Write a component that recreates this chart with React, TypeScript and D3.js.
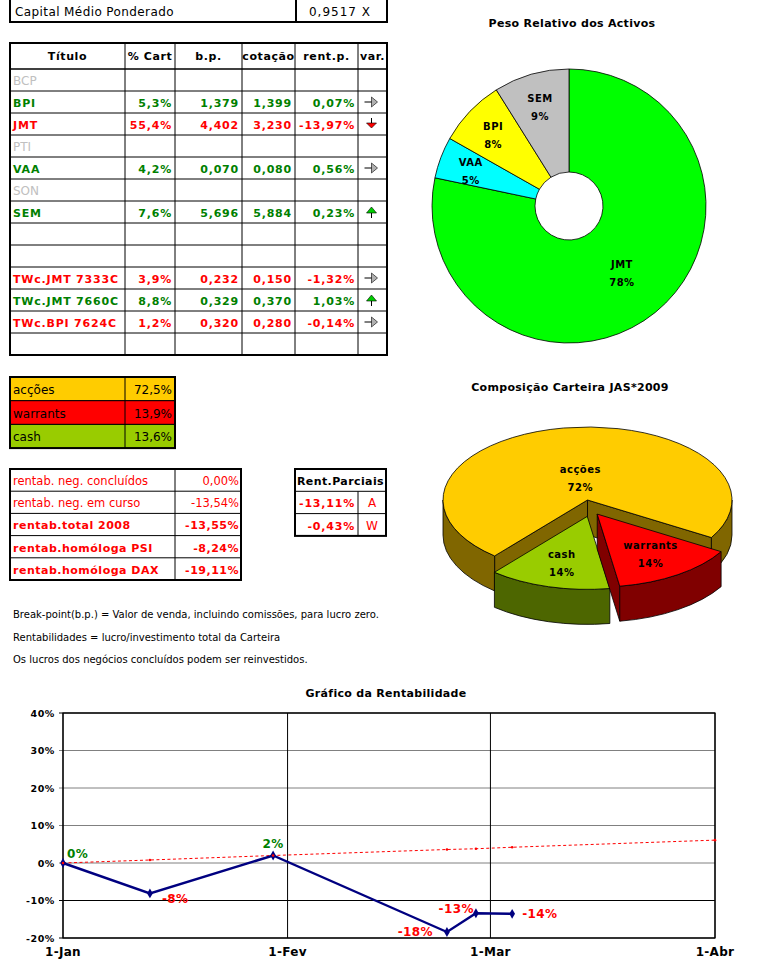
import React from "react";
import * as d3 from "d3";

const FONT = "'Comic Sans MS','DejaVu Sans',sans-serif";
const GREEN = "#008000";
const RED = "#FF0000";
const GRAYTXT = "#C0C0C0";

// ---------- data ----------
const CAPITAL_LABEL = "Capital Médio Ponderado";
const CAPITAL_VALUE = 0.9517;

const HEADERS = ["Título", "% Cart", "b.p.", "cotação", "rent.p.", "var."];
const TITLES = ["BCP", "BPI", "JMT", "PTI", "VAA", "SON", "SEM", "", "", "TWc.JMT 7333C", "TWc.JMT 7660C", "TWc.BPI 7624C", ""];
const PCT_CART = [null, 5.3, 55.4, null, 4.2, null, 7.6, null, null, 3.9, 8.8, 1.2, null];
const BREAK_POINT = [null, 1.379, 4.402, null, 0.07, null, 5.696, null, null, 0.232, 0.329, 0.32, null];
const COTACAO = [null, 1.399, 3.23, null, 0.08, null, 5.884, null, null, 0.15, 0.37, 0.28, null];
const RENT_P = [null, 0.07, -13.97, null, 0.56, null, 0.23, null, null, -1.32, 1.03, -0.14, null];
const VAR_DIR = ["", "flat", "down", "", "flat", "", "up", "", "", "flat", "up", "flat", ""];
const INACTIVE = ["BCP", "PTI", "SON"];

const COMP_LABELS = ["acções", "warrants", "cash"];
const COMP_VALUES = [72.46, 13.9, 13.6];
const COMP_COLORS = ["#FFCC00", "#FF0000", "#99CC00"];
const COMP_SIDES = ["#806600", "#800000", "#4D6600"];
const COMP_EXPLODED = [false, true, true];

const RENT_LABELS = ["rentab. neg. concluídos", "rentab. neg. em curso", "rentab.total 2008", "rentab.homóloga PSI", "rentab.homóloga DAX"];
const RENT_VALUES = [0.0, -13.54, -13.55, -8.24, -19.11];
const RENT_BOLD = [false, false, true, true, true];

const PARC_TITLE = "Rent.Parciais";
const PARC_VALUES = [-13.11, -0.43];
const PARC_CODES = ["A", "W"];

const NOTES = [
  "Break-point(b.p.) = Valor de venda, incluindo comissões, para lucro zero.",
  "Rentabilidades = lucro/investimento total da Carteira",
  "Os lucros dos negócios concluídos podem ser reinvestidos.",
];

const PESO_TITLE = "Peso Relativo dos Activos";
const PESO_LABELS = ["JMT", "VAA", "BPI", "SEM"];
const PESO_VALUES = [78.3, 4.9, 7.9, 8.9];
const PESO_COLORS = ["#00FF00", "#00FFFF", "#FFFF00", "#C0C0C0"];

const COMP_TITLE = "Composição Carteira JAS*2009";

const LINE_TITLE = "Gráfico da Rentabilidade";
const RENT_DATES = ["2009-01-01", "2009-01-13", "2009-01-30", "2009-02-23", "2009-02-27", "2009-03-04"];
const RENT_SERIES = [0, -8.1, 2.0, -18.4, -13.4, -13.55];
const RENT_LABEL_POS = ["ur", "br", "t", "l", "tl", "r"];
const BENCH_DATES = ["2009-01-01", "2009-01-13", "2009-01-30", "2009-02-23", "2009-02-27", "2009-03-04", "2009-04-01"];
const BENCH_VALUES = [0, 0.8, 2.0, 3.6, 3.8, 4.2, 6.1];
const Y_TICKS = [-20, -10, 0, 10, 20, 30, 40];
const X_TICK_DATES = ["2009-01-01", "2009-02-01", "2009-03-01", "2009-04-01"];
const X_TICK_LABELS = ["1-Jan", "1-Fev", "1-Mar", "1-Abr"];

// ---------- helpers ----------
const pt = d3.formatLocale({ decimal: ",", thousands: ".", grouping: [3], currency: ["", "€"], minus: "-" } as any);
const f1 = pt.format(".1f");
const f2 = pt.format(".2f");
const f3 = pt.format(".3f");
const f4 = pt.format(".4f");
const parse = d3.timeParse("%Y-%m-%d");

function Arrow({ x, y, dir }: { x: number; y: number; dir: string }) {
  if (dir === "flat") {
    return (
      <g>
        <line x1={x - 7} x2={x + 1} y1={y} y2={y} stroke="#000" strokeWidth={1} />
        <path d={`M${x},${y - 5} L${x + 6},${y} L${x},${y + 5} Z`} fill="#B0B0B0" stroke="#000" strokeWidth={0.6} />
      </g>
    );
  }
  if (dir === "down") {
    return (
      <g>
        <line x1={x} x2={x} y1={y - 6} y2={y} stroke="#000" strokeWidth={1} />
        <path d={`M${x - 5},${y - 1} L${x + 5},${y - 1} L${x},${y + 4} Z`} fill={RED} stroke="#000" strokeWidth={0.6} />
      </g>
    );
  }
  if (dir === "up") {
    return (
      <g>
        <line x1={x} x2={x} y1={y} y2={y + 6} stroke="#000" strokeWidth={1} />
        <path d={`M${x - 5},${y + 1} L${x + 5},${y + 1} L${x},${y - 5} Z`} fill="#00CC00" stroke="#000" strokeWidth={0.6} />
      </g>
    );
  }
  return null;
}

function MainTable() {
  const cols = [10, 125, 175, 242, 295, 358, 387];
  const top = 43;
  const headH = 26;
  const rowH = 22;
  const y0 = top + headH;
  const bottom = y0 + TITLES.length * rowH;
  const cols2 = [PCT_CART, BREAK_POINT, COTACAO, RENT_P];
  const fmts = [(v: number) => f1(v) + "%", f3, f3, (v: number) => f2(v) + "%"];
  return (
    <g fontFamily={FONT}>
      {TITLES.map((_, i) => (
        <line key={"r" + i} x1={cols[0]} x2={cols[6]} y1={y0 + i * rowH} y2={y0 + i * rowH} stroke="#000" strokeWidth={i === 0 ? 1.5 : 1} />
      ))}
      {cols.slice(1, 6).map((c, i) => (
        <line key={"c" + i} x1={c} x2={c} y1={top} y2={bottom} stroke="#000" strokeWidth={1} />
      ))}
      <rect x={cols[0]} y={top} width={cols[6] - cols[0]} height={bottom - top} fill="none" stroke="#000" strokeWidth={2} />
      {HEADERS.map((h, i) => (
        <text key={"h" + i} x={(cols[i] + cols[i + 1]) / 2} y={top + 17} textAnchor="middle" fontSize={11} fontWeight="bold" letterSpacing={0.6}>
          {h}
        </text>
      ))}
      {TITLES.map((t, i) => {
        const ry = y0 + i * rowH;
        if (!t) return null;
        if (INACTIVE.includes(t)) {
          return (
            <text key={"t" + i} x={cols[0] + 3} y={ry + 16} fontSize={12} fill={GRAYTXT}>
              {t}
            </text>
          );
        }
        const color = (RENT_P[i] as number) < 0 ? RED : GREEN;
        return (
          <g key={"t" + i} fill={color} fontSize={11} fontWeight="bold" letterSpacing={0.8}>
            <text x={cols[0] + 3} y={ry + 16}>{t}</text>
            {cols2.map((arr, j) => (
              <text key={j} x={cols[j + 2] - 3} y={ry + 16} textAnchor="end">
                {fmts[j](arr[i] as number)}
              </text>
            ))}
            <Arrow x={(cols[5] + cols[6]) / 2 - 1} y={ry + 11} dir={VAR_DIR[i]} />
          </g>
        );
      })}
    </g>
  );
}

function TopBox() {
  return (
    <g fontFamily={FONT}>
      <line x1={296} x2={296} y1={0} y2={22} stroke="#000" strokeWidth={2} />
      <rect x={10} y={-2} width={377} height={24} fill="none" stroke="#000" strokeWidth={2} />
      <text x={15} y={16} fontSize={12} letterSpacing={0.4}>{CAPITAL_LABEL}</text>
      <text x={340} y={16} fontSize={12} textAnchor="middle" letterSpacing={1}>
        {f4(CAPITAL_VALUE) + " X"}
      </text>
    </g>
  );
}

function CompTable() {
  const x0 = 10, x1 = 125, x2 = 175, top = 377, rowH = 23.7;
  return (
    <g fontFamily={FONT}>
      {COMP_LABELS.map((l, i) => (
        <g key={i}>
          <rect x={x0} y={top + i * rowH} width={x2 - x0} height={rowH} fill={COMP_COLORS[i]} stroke="#000" strokeWidth={1} />
          <text x={x0 + 3} y={top + i * rowH + 17} fontSize={12}>{l}</text>
          <text x={x2 - 3} y={top + i * rowH + 17} fontSize={12} textAnchor="end">{f1(COMP_VALUES[i]) + "%"}</text>
        </g>
      ))}
      <line x1={x1} x2={x1} y1={top} y2={top + 3 * rowH} stroke="#000" />
      <rect x={x0} y={top} width={x2 - x0} height={3 * rowH} fill="none" stroke="#000" strokeWidth={2} />
    </g>
  );
}

function RentTable() {
  const x0 = 10, x1 = 175, x2 = 241, top = 469, rowH = 22.2;
  return (
    <g fontFamily={FONT} fill={RED}>
      {RENT_LABELS.map((l, i) => (
        <g key={i} fontWeight={RENT_BOLD[i] ? "bold" : "normal"} letterSpacing={RENT_BOLD[i] ? 0.5 : 0}>
          <line x1={x0} x2={x2} y1={top + i * rowH} y2={top + i * rowH} stroke="#000" />
          <text x={x0 + 3} y={top + i * rowH + 16} fontSize={RENT_BOLD[i] ? 11 : 11.5}>{l}</text>
          <text x={x2 - 2} y={top + i * rowH + 16} fontSize={RENT_BOLD[i] ? 11 : 11.5} textAnchor="end">{f2(RENT_VALUES[i]) + "%"}</text>
        </g>
      ))}
      <line x1={x1} x2={x1} y1={top} y2={top + 5 * rowH} stroke="#000" />
      <rect x={x0} y={top} width={x2 - x0} height={5 * rowH} fill="none" stroke="#000" strokeWidth={2} />
    </g>
  );
}

function ParcTable() {
  const x0 = 295, x1 = 358, x2 = 386, top = 469, rowH = 22.3;
  return (
    <g fontFamily={FONT}>
      <text x={(x0 + x2) / 2} y={top + 16} textAnchor="middle" fontSize={11} fontWeight="bold" letterSpacing={0.4}>{PARC_TITLE}</text>
      {PARC_VALUES.map((v, i) => (
        <g key={i} fill={RED}>
          <line x1={x0} x2={x2} y1={top + (i + 1) * rowH} y2={top + (i + 1) * rowH} stroke="#000" />
          <text x={x1 - 3} y={top + (i + 1) * rowH + 16} textAnchor="end" fontSize={11} fontWeight="bold" letterSpacing={0.8}>{f2(v) + "%"}</text>
          <text x={(x1 + x2) / 2} y={top + (i + 1) * rowH + 16} textAnchor="middle" fontSize={12}>{PARC_CODES[i]}</text>
        </g>
      ))}
      <line x1={x1} x2={x1} y1={top + rowH} y2={top + 3 * rowH} stroke="#000" />
      <rect x={x0} y={top} width={x2 - x0} height={3 * rowH} fill="none" stroke="#000" strokeWidth={2} />
    </g>
  );
}

function Notes() {
  return (
    <g fontFamily={FONT} fontSize={10}>
      {NOTES.map((n, i) => (
        <text key={i} x={13} y={618 + i * 22.5}>{n}</text>
      ))}
    </g>
  );
}

function Donut() {
  const cx = 569, cy = 206, rOut = 137, rIn = 34;
  const total = d3.sum(PESO_VALUES);
  const arcs = d3.pie<number>().sort(null).value((d) => d)(PESO_VALUES);
  const arc = d3.arc<d3.PieArcDatum<number>>().innerRadius(rIn).outerRadius(rOut);
  return (
    <g fontFamily={FONT}>
      <text x={572} y={27} textAnchor="middle" fontSize={11} fontWeight="bold" letterSpacing={0.3}>{PESO_TITLE}</text>
      <g transform={`translate(${cx},${cy})`}>
        {arcs.map((a, i) => (
          <path key={i} d={arc(a) as string} fill={PESO_COLORS[i]} stroke="#000" strokeWidth={0.8} />
        ))}
        {arcs.map((a, i) => {
          const lr = a.endAngle - a.startAngle > Math.PI ? 84 : 105;
          const m = (a.startAngle + a.endAngle) / 2;
          const x = lr * Math.sin(m), y = -lr * Math.cos(m);
          return (
            <g key={"l" + i} fontSize={10} fontWeight="bold" textAnchor="middle" letterSpacing={0.5}>
              <text x={x} y={y - 3}>{PESO_LABELS[i]}</text>
              <text x={x} y={y + 15}>{Math.round((a.data / total) * 100) + "%"}</text>
            </g>
          );
        })}
      </g>
    </g>
  );
}

function Pie3D() {
  const cx = 587.5, cy = 500, rx = 144.5, ry = 73, depth = 35;
  const total = d3.sum(COMP_VALUES);
  const start = (220 / 180) * Math.PI;
  const arcs = d3.pie<number>().sort(null).value((d) => d).startAngle(start).endAngle(start + 2 * Math.PI)(COMP_VALUES);
  const drawOrder = [0, 2, 1];
  return (
    <g fontFamily={FONT}>
      <text x={570} y={391} textAnchor="middle" fontSize={11} fontWeight="bold" letterSpacing={0.3}>{COMP_TITLE}</text>
      {drawOrder.map((i) => {
        const a = arcs[i];
        const a0 = a.startAngle, a1 = a.endAngle;
        const m = (a0 + a1) / 2;
        const ox = COMP_EXPLODED[i] ? Math.sin(m) * 12 + 3 : 0;
        const oy = COMP_EXPLODED[i] ? -Math.cos(m) * 17 : 0;
        const P = (ang: number, dz = 0) => [cx + ox + rx * Math.sin(ang), cy + oy - ry * Math.cos(ang) + dz];
        const apex = [cx + ox, cy + oy];
        const s = (p: number[]) => `${p[0]},${p[1]}`;
        const walls: string[] = [];
        for (let k = -1; k <= 2; k++) {
          const lo = Math.max(a0, Math.PI / 2 + 2 * Math.PI * k);
          const hi = Math.min(a1, (3 * Math.PI) / 2 + 2 * Math.PI * k);
          if (hi > lo) {
            walls.push(
              `M${s(P(lo))} A${rx},${ry} 0 0 1 ${s(P(hi))} L${s(P(hi, depth))} A${rx},${ry} 0 0 0 ${s(P(lo, depth))} Z`
            );
          }
        }
        const radial: string[] = [];
        const addRadial = (ang: number, n: number) => {
          if (Math.cos(n) < 0) {
            radial.push(`M${s(apex)} L${s(P(ang))} L${s(P(ang, depth))} L${apex[0]},${apex[1] + depth} Z`);
          }
        };
        addRadial(a0, a0 - Math.PI / 2);
        addRadial(a1, a1 + Math.PI / 2);
        const large = a1 - a0 > Math.PI ? 1 : 0;
        const topPath = `M${s(apex)} L${s(P(a0))} A${rx},${ry} 0 ${large} 1 ${s(P(a1))} Z`;
        const big = a1 - a0 > Math.PI;
        const f = big ? 0.3 : 0.66;
        const lx = cx + ox + rx * f * Math.sin(m);
        const ly = cy + oy - ry * f * Math.cos(m);
        return (
          <g key={i}>
            {radial.map((d, j) => (
              <path key={"r" + j} d={d} fill={COMP_SIDES[i]} stroke="#000" strokeWidth={0.8} />
            ))}
            {walls.map((d, j) => (
              <path key={"w" + j} d={d} fill={COMP_SIDES[i]} stroke="#000" strokeWidth={0.8} />
            ))}
            <path d={topPath} fill={COMP_COLORS[i]} stroke="#000" strokeWidth={0.8} />
            <g fontSize={10} fontWeight="bold" textAnchor="middle" letterSpacing={0.5}>
              <text x={lx} y={ly - 5}>{COMP_LABELS[i]}</text>
              <text x={lx} y={ly + 13}>{Math.round((a.data / total) * 100) + "%"}</text>
            </g>
          </g>
        );
      })}
    </g>
  );
}

function LineChart() {
  const x = d3.scaleTime().domain([parse(X_TICK_DATES[0])!, parse(X_TICK_DATES[3])!]).range([63, 715]);
  const y = d3.scaleLinear().domain([-20, 40]).range([938, 713]);
  const rentPts = RENT_DATES.map((d, i) => [x(parse(d)!), y(RENT_SERIES[i])] as [number, number]);
  const benchPts = BENCH_DATES.map((d, i) => [x(parse(d)!), y(BENCH_VALUES[i])] as [number, number]);
  const line = d3.line();
  const diamond = d3.symbol().type(d3.symbolDiamond).size(28)() as string;
  const [x0, x1] = x.range();
  const [yb, yt] = y.range();
  return (
    <g fontFamily={FONT}>
      <text x={386} y={697} textAnchor="middle" fontSize={11} fontWeight="bold" letterSpacing={0.3}>{LINE_TITLE}</text>
      {Y_TICKS.map((t) => (
        <g key={t}>
          <line x1={x0 - 4} x2={x1} y1={y(t)} y2={y(t)} stroke={t === -10 || t === 40 || t === -20 ? "#000" : "#808080"} strokeWidth={1} />
          <text x={55} y={y(t) + 3.5} textAnchor="end" fontSize={9.5} fontWeight="bold" letterSpacing={0.6}>{t + "%"}</text>
        </g>
      ))}
      {X_TICK_DATES.map((d, i) => (
        <g key={d}>
          <line x1={x(parse(d)!)} x2={x(parse(d)!)} y1={yt} y2={yb} stroke="#000" strokeWidth={1} />
          <text x={x(parse(d)!)} y={956} textAnchor="middle" fontSize={12} fontWeight="bold" letterSpacing={0.3}>{X_TICK_LABELS[i]}</text>
        </g>
      ))}
      <rect x={x0} y={yt} width={x1 - x0} height={yb - yt} fill="none" stroke="#000" strokeWidth={1.2} />
      <path d={line(benchPts) as string} fill="none" stroke={RED} strokeWidth={1} strokeDasharray="3,2.5" />
      <path d={line(rentPts) as string} fill="none" stroke="#000080" strokeWidth={2.4} />
      {rentPts.map((p, i) => (
        <path key={"m" + i} d={diamond} transform={`translate(${p[0]},${p[1]})`} fill="#000080" />
      ))}
      {benchPts.map((p, i) => (
        <circle key={"b" + i} cx={p[0]} cy={p[1]} r={1.3} fill={RED} />
      ))}
      {rentPts.map((p, i) => {
        const v = RENT_SERIES[i];
        const pos = RENT_LABEL_POS[i];
        let dx = 0, dy = 0, anchor = "start";
        if (pos === "ur") { dx = 4; dy = -5; }
        else if (pos === "br") { dx = 12; dy = 10; }
        else if (pos === "t") { dy = -8; anchor = "middle"; }
        else if (pos === "l") { dx = -14; dy = 4; anchor = "end"; }
        else if (pos === "tl") { dx = -2; dy = 0; anchor = "end"; }
        else if (pos === "r") { dx = 10; dy = 4; }
        const r = Math.sign(v) * Math.round(Math.abs(v));
        return (
          <text key={"lab" + i} x={p[0] + dx} y={p[1] + dy} textAnchor={anchor} fontSize={12} fontWeight="bold" letterSpacing={0.4} fill={v < 0 ? RED : GREEN}>
            {(r === 0 ? 0 : r) + "%"}
          </text>
        );
      })}
    </g>
  );
}

export default function App() {
  return (
    <svg width={762} height={969} style={{ position: "absolute", left: 0, top: 0, background: "#fff" }}>
      <rect x={0} y={0} width={762} height={969} fill="#fff" />
      <TopBox />
      <MainTable />
      <CompTable />
      <RentTable />
      <ParcTable />
      <Notes />
      <Donut />
      <Pie3D />
      <LineChart />
    </svg>
  );
}
